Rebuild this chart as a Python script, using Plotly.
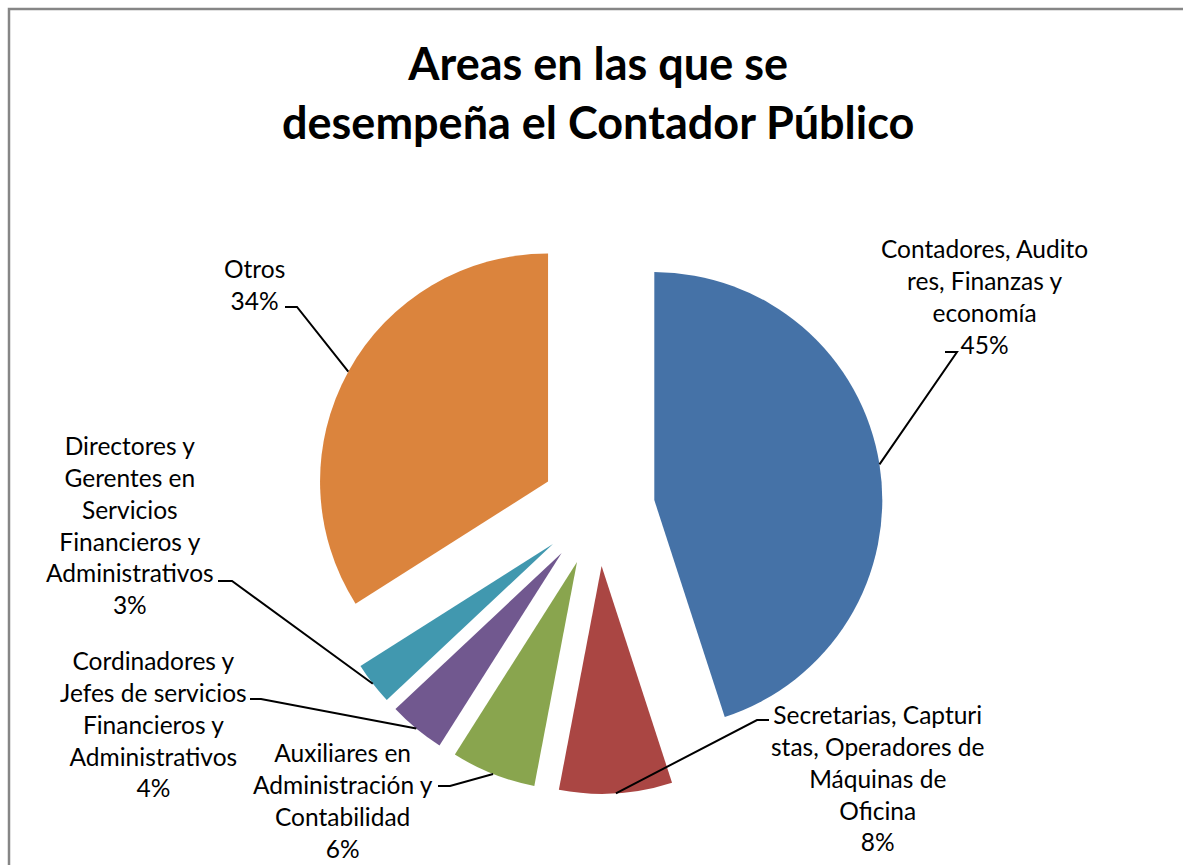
import numpy as np
import plotly.graph_objects as go

# ---------------- data ----------------
categories = [
    "Contadores, Auditores, Finanzas y economía",
    "Secretarias, Capturistas, Operadores de Máquinas de Oficina",
    "Auxiliares en Administración y Contabilidad",
    "Cordinadores y Jefes de servicios Financieros y Administrativos",
    "Directores y Gerentes en Servicios Financieros y Administrativos",
    "Otros",
]
label_lines = [
    "Contadores, Audito<br>res, Finanzas y<br>economía",
    "Secretarias, Capturi<br>stas, Operadores de<br>Máquinas de<br>Oficina",
    "Auxiliares en<br>Administración y<br>Contabilidad",
    "Cordinadores y<br>Jefes de servicios<br>Financieros y<br>Administrativos",
    "Directores y<br>Gerentes en<br>Servicios<br>Financieros y<br>Administrativos",
    "Otros",
]
values = [45, 8, 6, 4, 3, 34]
colors = ["#4572A7", "#AA4643", "#89A54E", "#71588F", "#4198AF", "#DB843D"]
title_text = "Areas en las que se<br>desempeña el Contador Público"

# ---------------- layout constants (pixels) ----------------
W, H = 1183, 865
CX, CY, R, PULL = 598, 509, 228, 0.25
FONT = "Lato"

# label centres and leader elbow/end points (layout only)
label_pos = [(984, 296), (877, 778), (343, 800), (153, 724), (130, 525), (254, 284)]
leader_elbow = [((957, 352), (945, 352)),
                ((757, 720), (769, 720)),
                ((450, 786), (438, 786)),
                ((261, 699), (250, 699)),
                ((232, 581), (218, 581)),
                ((297, 307), (285, 307))]

ext = R * (1 + PULL)
dom_x = [(CX - ext) / W, (CX + ext) / W]
dom_y = [(H - CY - ext) / H, (H - CY + ext) / H]

fig = go.Figure()
fig.add_trace(go.Pie(
    labels=categories, values=values, sort=False, direction="clockwise",
    rotation=0, pull=[PULL] * len(values),
    marker=dict(colors=colors, line=dict(width=0)),
    textinfo="none", hoverinfo="label+percent", showlegend=False,
    domain=dict(x=dom_x, y=dom_y),
))

# leader lines: anchor on outer arc at mid-angle of each (pulled) slice
total = float(sum(values))
cum = np.cumsum([0] + values[:-1])
for i, v in enumerate(values):
    mid = (cum[i] + v / 2) / total * 2 * np.pi
    ux, uy = np.sin(mid), -np.cos(mid)
    ax = CX + (PULL * R + R) * ux
    ay = CY + (PULL * R + R) * uy
    (ex, ey), (tx, ty) = leader_elbow[i]
    fig.add_shape(type="path", xref="x", yref="y", layer="above",
                  path=f"M {ax:.1f},{ay:.1f} L {ex},{ey} L {tx},{ty}",
                  line=dict(color="black", width=2))
    lx, ly = label_pos[i]
    fig.add_annotation(x=lx, y=ly, xref="x", yref="y",
                       text=f"{label_lines[i]}<br>{v}%", showarrow=False,
                       align="center", xanchor="center", yanchor="middle",
                       font=dict(family=FONT, size=24.5, color="black"))

fig.add_annotation(x=598, y=92, xref="x", yref="y", text=f"<b>{title_text}</b>",
                   showarrow=False, align="center", xanchor="center", yanchor="middle",
                   font=dict(family=FONT, size=45, color="black"))

fig.add_shape(type="rect", xref="x", yref="y", x0=9, y0=9, x1=W + 20, y1=H + 20,
              line=dict(color="#868686", width=2.5), fillcolor="rgba(0,0,0,0)")

fig.update_layout(
    width=W, height=H, margin=dict(l=0, r=0, t=0, b=0),
    paper_bgcolor="white", plot_bgcolor="white",
    xaxis=dict(range=[0, W], visible=False, fixedrange=True),
    yaxis=dict(range=[H, 0], visible=False, fixedrange=True),
)
fig.write_html("out.html", config={"displayModeBar": False},
               post_script="document.body.style.margin='0';document.body.style.overflow='hidden';")
